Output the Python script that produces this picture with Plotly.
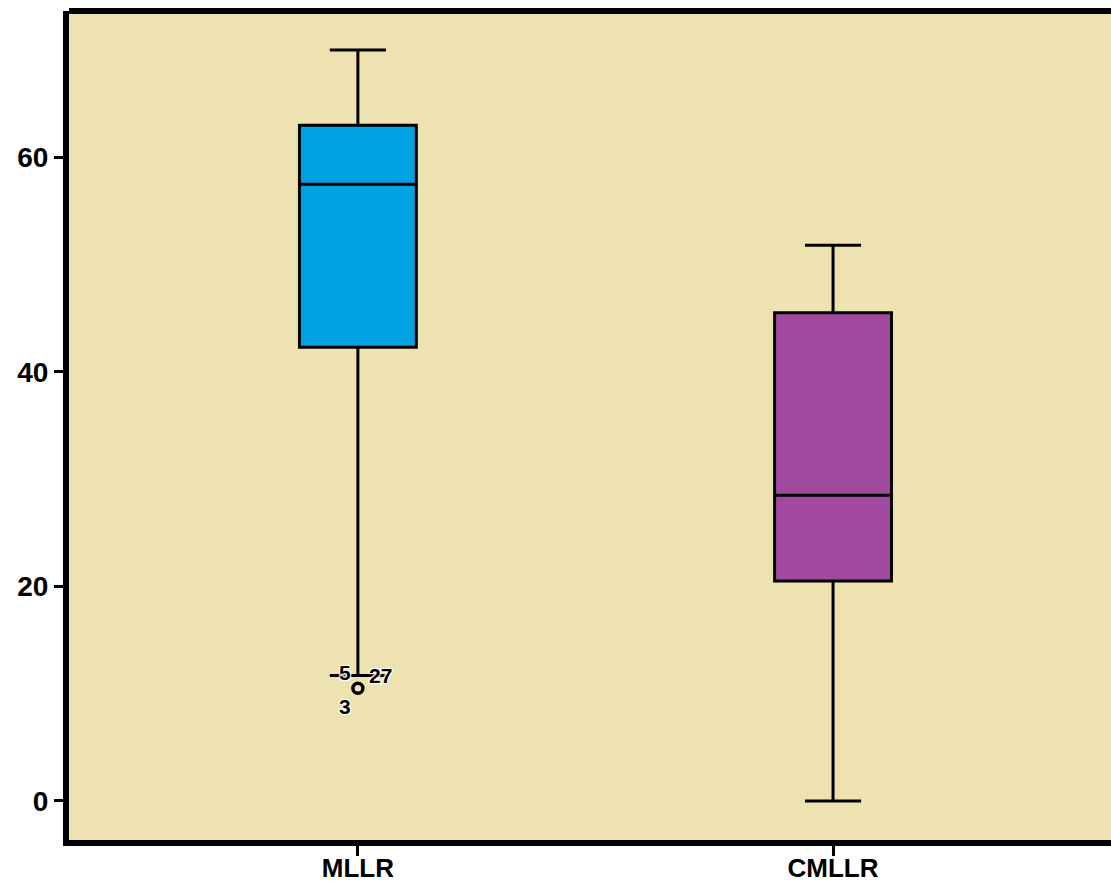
import plotly.graph_objects as go

categories = ["MLLR", "CMLLR"]
q1 = [42.3, 20.5]
median = [57.5, 28.5]
q3 = [63.0, 45.5]
lower = [11.7, 0.0]
upper = [70.0, 51.8]
fill_colors = ["#00A2E3", "#A14A9F"]

outlier_cat = ["MLLR"]
outlier_val = [10.5]
outlier_labels = [("5", -13, 16), ("27", 23, 13), ("3", -13, -18)]

fig = go.Figure()
for i, c in enumerate(categories):
    fig.add_trace(go.Box(
        x=[c], q1=[q1[i]], median=[median[i]], q3=[q3[i]],
        lowerfence=[lower[i]], upperfence=[upper[i]],
        fillcolor=fill_colors[i], line=dict(color="black", width=3),
        width=0.246, whiskerwidth=0.48, boxpoints=False, showlegend=False,
        hoverinfo="skip",
    ))

fig.add_trace(go.Scatter(
    x=outlier_cat, y=outlier_val, mode="markers",
    marker=dict(symbol="circle-open", size=10, color="black", line=dict(width=3.5)),
    showlegend=False,
))
halo = "1px 1px 1px white, -1px -1px 1px white, 1px -1px 1px white, -1px 1px 1px white"
for txt, dx, dy in outlier_labels:
    fig.add_annotation(x=outlier_cat[0], y=outlier_val[0], text=txt, showarrow=False,
                       xshift=dx, yshift=dy,
                       font=dict(family="Liberation Sans", size=21, color="black", weight="bold",
                                 shadow=halo))

fig.add_shape(type="line", xref="paper", yref="paper", x0=0, x1=1, y0=1, y1=1,
              line=dict(color="black", width=6))

fig.update_layout(
    width=1111, height=885,
    margin=dict(l=69, r=0, t=11, b=45),
    paper_bgcolor="white", plot_bgcolor="#EEE2B0",
    font=dict(family="Liberation Sans", color="black"),
    xaxis=dict(type="category", categoryorder="array", categoryarray=categories,
               range=[-0.608, 1.585], showgrid=False, zeroline=False, automargin=False,
               showline=True, linecolor="black", linewidth=6,
               ticks="outside", ticklen=10, tickwidth=3, tickcolor="black",
               ticklabelstandoff=-10,
               tickfont=dict(size=26, weight="bold")),
    yaxis=dict(range=[-3.64, 73.64], tickvals=[0, 20, 40, 60], showgrid=False, zeroline=False,
               automargin=False,
               showline=True, linecolor="black", linewidth=6,
               ticks="outside", ticklen=9, tickwidth=3, tickcolor="black",
               tickfont=dict(size=28, weight="bold")),
)

fig.write_html("out.html", config={"displayModeBar": False},
               post_script="document.body.style.margin='0';document.body.style.overflow='hidden';")
